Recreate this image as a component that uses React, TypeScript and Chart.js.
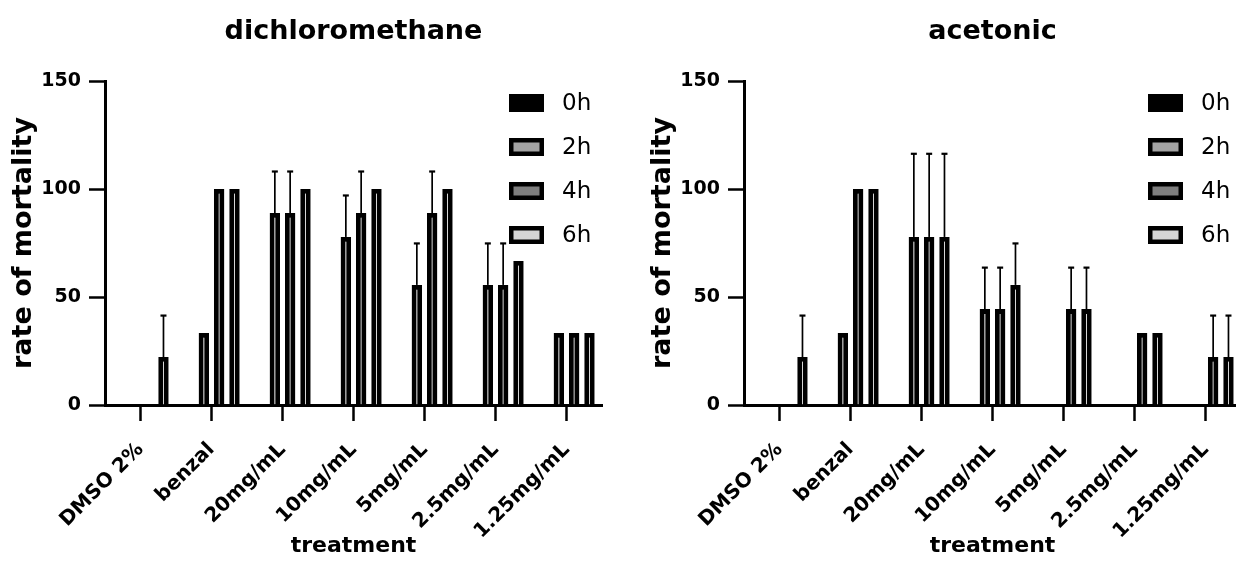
import React, { useEffect, useRef } from "react";
import { Chart, registerables } from "chart.js";

Chart.register(...registerables);

const categories = ["DMSO 2%", "benzal", "20mg/mL", "10mg/mL", "5mg/mL", "2.5mg/mL", "1.25mg/mL"];
const seriesNames = ["0h", "2h", "4h", "6h"];
const seriesFills = ["#000000", "#a3a3a3", "#7e7e7e", "#d6d6d6"];
const yTickValues = [0, 50, 100, 150];

// dichloromethane (mean mortality %)
const dcm0h = [0, 0, 0, 0, 0, 0, 0];
const dcm2h = [0, 33.3, 88.9, 77.8, 55.6, 55.6, 33.3];
const dcm4h = [0, 100, 88.9, 88.9, 88.9, 55.6, 33.3];
const dcm6h = [22.2, 100, 100, 100, 100, 66.7, 33.3];
// dichloromethane (SD, upper error bars)
const dcm0hErr = [0, 0, 0, 0, 0, 0, 0];
const dcm2hErr = [0, 0, 19.2, 19.2, 19.2, 19.2, 0];
const dcm4hErr = [0, 0, 19.2, 19.2, 19.2, 19.2, 0];
const dcm6hErr = [19.2, 0, 0, 0, 0, 0, 0];

// acetonic (mean mortality %)
const ace0h = [0, 0, 0, 0, 0, 0, 0];
const ace2h = [0, 33.3, 77.8, 44.4, 0, 0, 0];
const ace4h = [0, 100, 77.8, 44.4, 44.4, 33.3, 22.2];
const ace6h = [22.2, 100, 77.8, 55.6, 44.4, 33.3, 22.2];
// acetonic (SD, upper error bars)
const ace0hErr = [0, 0, 0, 0, 0, 0, 0];
const ace2hErr = [0, 0, 38.5, 19.2, 0, 0, 0];
const ace4hErr = [0, 0, 38.5, 19.2, 19.2, 0, 19.2];
const ace6hErr = [19.2, 0, 38.5, 19.2, 19.2, 0, 19.2];

const FONT = "'DejaVu Sans', 'Liberation Sans', Arial, sans-serif";

const errorBarPlugin = {
  id: "errorBars",
  afterDatasetsDraw(chart: any) {
    const ctx = chart.ctx;
    const yScale = chart.scales.y;
    ctx.save();
    ctx.strokeStyle = "#000";
    chart.data.datasets.forEach((ds: any, di: number) => {
      const errs = ds.errors;
      if (!errs) return;
      const meta = chart.getDatasetMeta(di);
      meta.data.forEach((bar: any, i: number) => {
        const e = errs[i];
        if (!e) return;
        const v = ds.data[i];
        const yTop = yScale.getPixelForValue(v + e);
        const yBar = yScale.getPixelForValue(v);
        ctx.lineWidth = 1.7;
        ctx.beginPath();
        ctx.moveTo(bar.x, yBar);
        ctx.lineTo(bar.x, yTop);
        ctx.stroke();
        ctx.lineWidth = 2.2;
        ctx.beginPath();
        ctx.moveTo(bar.x - 3, yTop);
        ctx.lineTo(bar.x + 3, yTop);
        ctx.stroke();
      });
    });
    ctx.restore();
  },
};

const boxLegendPlugin = {
  id: "boxLegend",
  afterDraw(chart: any) {
    const { ctx, chartArea } = chart;
    const x0 = chartArea.right - 93;
    ctx.save();
    chart.data.datasets.forEach((ds: any, i: number) => {
      const cy = chartArea.top + 22 + i * 44;
      ctx.fillStyle = "#000";
      ctx.fillRect(x0, cy - 9, 35, 18);
      ctx.fillStyle = ds.backgroundColor;
      ctx.fillRect(x0 + 4.5, cy - 4.5, 26, 9);
      ctx.fillStyle = "#000";
      ctx.font = `23px ${FONT}`;
      ctx.textAlign = "left";
      ctx.textBaseline = "middle";
      ctx.fillText(ds.label, x0 + 53, cy + 1);
    });
    ctx.restore();
  },
};

const centerTitlePlugin = {
  id: "centerTitle",
  afterDraw(chart: any, _args: any, opts: any) {
    const { ctx, chartArea } = chart;
    ctx.save();
    ctx.font = `bold 27px ${FONT}`;
    ctx.fillStyle = "#000";
    ctx.textAlign = "center";
    ctx.textBaseline = "alphabetic";
    ctx.fillText(opts.text, (chartArea.left + chartArea.right) / 2, 39);
    ctx.restore();
  },
};

function ChartPanel(props: { title: string; series: number[][]; errors: number[][]; left: number }) {
  const ref = useRef<HTMLCanvasElement | null>(null);
  useEffect(() => {
    if (!ref.current) return;
    const chart = new Chart(ref.current, {
      type: "bar",
      data: {
        labels: categories,
        datasets: props.series.map((vals, i) => ({
          label: seriesNames[i],
          data: vals,
          errors: props.errors[i],
          backgroundColor: seriesFills[i],
          borderColor: "#000",
          borderWidth: 4.8,
          categoryPercentage: 0.863,
          barPercentage: 0.68,
        })) as any,
      },
      options: {
        responsive: false,
        animation: false,
        devicePixelRatio: 1,
        layout: { padding: { top: 81, right: 37, bottom: 0, left: 0 } },
        plugins: {
          legend: { display: false },
          tooltip: { enabled: false },
          title: { display: false },
          centerTitle: { text: props.title },
        } as any,
        scales: {
          x: {
            grid: {
              display: true,
              drawOnChartArea: false,
              drawTicks: true,
              offset: false,
              tickLength: 16,
              tickWidth: 2.5,
              tickColor: "#000",
            },
            border: { display: true, color: "#000", width: 3 },
            ticks: {
              color: "#000",
              font: { family: FONT, size: 20, weight: "bold" },
              minRotation: 45,
              maxRotation: 45,
              padding: 17,
              autoSkip: false,
            },
            title: {
              display: true,
              text: "treatment",
              color: "#000",
              font: { family: FONT, size: 22, weight: "bold" },
              padding: { top: 0, bottom: 12 },
            },
            afterFit: (s: any) => {
              s.height = 166;
            },
          },
          y: {
            min: 0,
            max: 150,
            afterBuildTicks: (s: any) => {
              s.ticks = yTickValues.map((v) => ({ value: v }));
            },
            grid: {
              display: true,
              drawOnChartArea: false,
              drawTicks: true,
              tickLength: 16,
              tickWidth: 2.5,
              tickColor: "#000",
            },
            border: { display: true, color: "#000", width: 3 },
            ticks: {
              color: "#000",
              font: { family: FONT, size: 19, weight: "bold" },
              padding: 8,
            },
            title: {
              display: true,
              text: "rate of mortality",
              color: "#000",
              font: { family: FONT, size: 27, weight: "bold" },
              padding: { top: 8, bottom: 0 },
            },
            afterFit: (s: any) => {
              s.width = 105;
            },
          },
        },
      } as any,
      plugins: [errorBarPlugin, boxLegendPlugin, centerTitlePlugin],
    });
    return () => chart.destroy();
  }, []);
  return (
    <div style={{ position: "absolute", left: props.left, top: 0, width: 639, height: 571 }}>
      <canvas ref={ref} width={639} height={571} style={{ width: 639, height: 571, display: "block" }} />
    </div>
  );
}

export default function App() {
  return (
    <div
      style={{
        position: "fixed",
        left: 0,
        top: 0,
        width: 1236,
        height: 571,
        overflow: "hidden",
        background: "#fff",
      }}
    >
      <ChartPanel
        title="dichloromethane"
        series={[dcm0h, dcm2h, dcm4h, dcm6h]}
        errors={[dcm0hErr, dcm2hErr, dcm4hErr, dcm6hErr]}
        left={0}
      />
      <ChartPanel
        title="acetonic"
        series={[ace0h, ace2h, ace4h, ace6h]}
        errors={[ace0hErr, ace2hErr, ace4hErr, ace6hErr]}
        left={639}
      />
    </div>
  );
}
